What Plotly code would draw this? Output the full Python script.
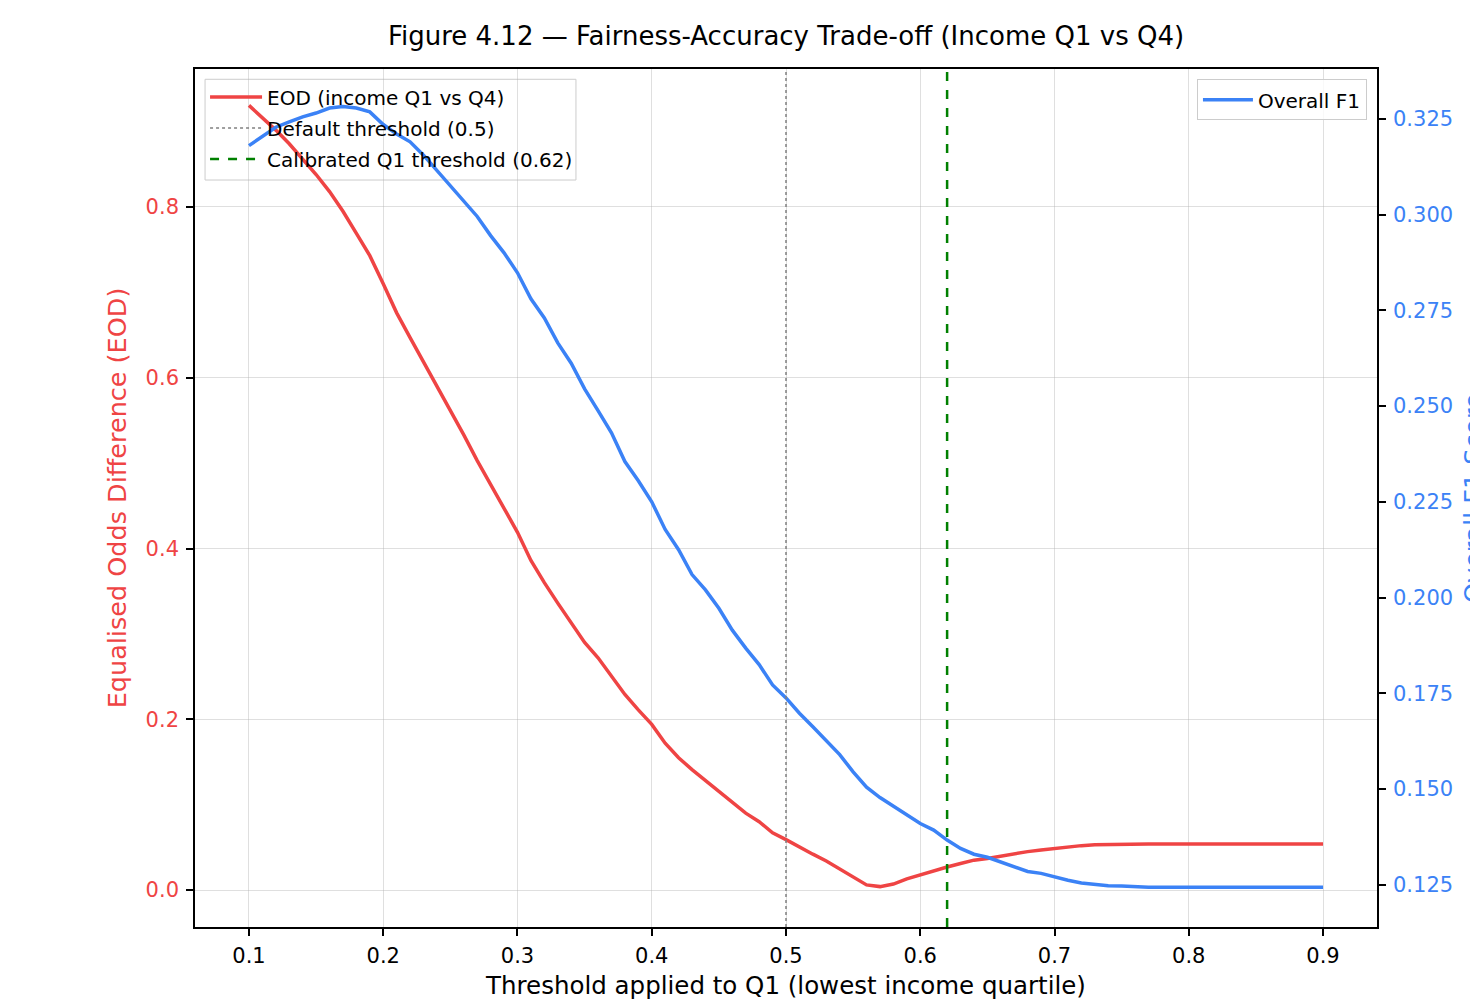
import plotly.graph_objects as go

thresholds = [round(0.10 + 0.01 * i, 2) for i in range(81)]

eod = [0.919, 0.905, 0.890, 0.874, 0.856, 0.838, 0.818, 0.795, 0.769, 0.743,
       0.710, 0.676, 0.647, 0.619, 0.591, 0.561, 0.533, 0.503, 0.475, 0.446,
       0.419, 0.386, 0.360, 0.336, 0.313, 0.290, 0.272, 0.251, 0.229, 0.211,
       0.194, 0.172, 0.155, 0.141, 0.128, 0.115, 0.102, 0.090, 0.080, 0.067,
       0.059, 0.050, 0.042, 0.034, 0.025, 0.015, 0.006, 0.004, 0.007, 0.013,
       0.018, 0.022, 0.027, 0.031, 0.035, 0.037, 0.040, 0.042, 0.045, 0.047,
       0.049, 0.051, 0.052, 0.053, 0.0535, 0.054, 0.054, 0.054, 0.054, 0.054,
       0.054, 0.054, 0.054, 0.054, 0.054, 0.054, 0.054, 0.054, 0.054, 0.054,
       0.054]

f1 = [0.3180, 0.3205, 0.3228, 0.3242, 0.3255, 0.3265, 0.3278, 0.3282, 0.3278, 0.3268,
      0.3235, 0.3210, 0.3190, 0.3155, 0.3115, 0.3075, 0.3035, 0.2995, 0.2945, 0.2900,
      0.2848, 0.2780, 0.2730, 0.2665, 0.2612, 0.2545, 0.2488, 0.2430, 0.2355, 0.2305,
      0.2250, 0.2178, 0.2125, 0.2060, 0.2020, 0.1972, 0.1915, 0.1868, 0.1825, 0.1772,
      0.1738, 0.1698, 0.1663, 0.1625, 0.1590, 0.1545, 0.1505, 0.1478, 0.1455, 0.1432,
      0.1410, 0.1393, 0.1367, 0.1345, 0.1330, 0.1322, 0.1310, 0.1297, 0.1285, 0.1280,
      0.1270, 0.1262, 0.1255, 0.1251, 0.1248, 0.1247, 0.1245, 0.1244, 0.1244, 0.1244,
      0.1244, 0.1244, 0.1244, 0.1244, 0.1244, 0.1244, 0.1244, 0.1244, 0.1244, 0.1244,
      0.1244]

default_threshold = 0.5
calibrated_threshold = 0.62

x_ticks = [0.1, 0.2, 0.3, 0.4, 0.5, 0.6, 0.7, 0.8, 0.9]
eod_ticks = [0.0, 0.2, 0.4, 0.6, 0.8]
f1_ticks = [0.125, 0.150, 0.175, 0.200, 0.225, 0.250, 0.275, 0.300, 0.325]

RED = "#ef4444"
BLUE = "#3b82f6"
FONT = "DejaVu Sans"
GRID = "rgba(176,176,176,0.4)"

fig = go.Figure()

fig.add_trace(go.Scatter(
    x=thresholds, y=eod, mode="lines", name="EOD (income Q1 vs Q4)",
    line=dict(color=RED, width=3.5), yaxis="y", legend="legend", legendgroup="g1",
))
fig.add_trace(go.Scatter(
    x=thresholds, y=f1, mode="lines", name="Overall F1",
    line=dict(color=BLUE, width=3.5), yaxis="y2", legend="legend2", legendgroup="g4",
))

fig.add_shape(type="line", xref="x", yref="paper", x0=default_threshold, x1=default_threshold,
              y0=0, y1=1, line=dict(color="gray", width=1.5, dash="dot"),
              showlegend=True, name="Default threshold (0.5)", legend="legend", legendgroup="g2")
fig.add_shape(type="line", xref="x", yref="paper", x0=calibrated_threshold, x1=calibrated_threshold,
              y0=0, y1=1, line=dict(color="green", width=2.5, dash="dash"),
              showlegend=True, name="Calibrated Q1 threshold (0.62)", legend="legend", legendgroup="g3")

# semi-transparent legend frame drawn beneath the F1 curve (as in the twin-axis original)
fig.add_shape(type="rect", xref="x domain", yref="y2 domain", layer="below",
              x0=0.0085, x1=0.3223, y0=0.8706, y1=0.988,
              fillcolor="rgba(255,255,255,0.8)", line=dict(color="#cccccc", width=1))

fig.update_layout(
    width=1470, height=1000,
    margin=dict(l=195, r=93, t=69, b=73),
    paper_bgcolor="white", plot_bgcolor="white",
    font=dict(family=FONT, size=21, color="black"),
    title=dict(text="Figure 4.12 — Fairness-Accuracy Trade-off (Income Q1 vs Q4)",
               x=0.5, xref="paper", xanchor="center", y=1 - 36 / 1000, yanchor="middle",
               yref="container", font=dict(family=FONT, size=26, color="black")),
    xaxis=dict(
        range=[0.0598, 0.9402], tickvals=x_ticks, ticktext=[f"{v:.1f}" for v in x_ticks],
        showgrid=True, gridcolor=GRID, gridwidth=1,
        showline=True, linecolor="black", linewidth=1.6, mirror=True,
        ticks="outside", ticklen=7, tickwidth=1.5, tickcolor="black",
        tickfont=dict(size=21, color="black"), zeroline=False, automargin=False,
        ticklabelstandoff=2,
        title=dict(text="Threshold applied to Q1 (lowest income quartile)",
                   font=dict(size=24.5, color="black"), standoff=17),
    ),
    yaxis=dict(
        range=[-0.0433, 0.9616], tickvals=eod_ticks, ticktext=[f"{v:.1f}" for v in eod_ticks],
        showgrid=True, gridcolor=GRID, gridwidth=1,
        showline=True, linecolor="black", linewidth=1.6,
        ticks="outside", ticklen=7, tickwidth=1.5, tickcolor="black",
        tickfont=dict(size=21, color=RED), zeroline=False, automargin=False,
        ticklabelstandoff=3,
        title=dict(text="Equalised Odds Difference (EOD)", font=dict(size=25.5, color=RED), standoff=12),
    ),
    yaxis2=dict(
        range=[0.1140, 0.3380], overlaying="y", side="right",
        tickvals=f1_ticks, ticktext=[f"{v:.3f}" for v in f1_ticks],
        showgrid=False, showline=True, linecolor="black", linewidth=1.6,
        ticks="outside", ticklen=7, tickwidth=1.5, tickcolor="black",
        tickfont=dict(size=21, color=BLUE), zeroline=False, automargin=False,
        ticklabelstandoff=3,
    ),
    legend=dict(
        x=0.0085, y=0.99, xanchor="left", yanchor="top",
        bgcolor="rgba(0,0,0,0)", borderwidth=0,
        font=dict(size=20, color="black"), tracegroupgap=2, itemwidth=52,
    ),
    legend2=dict(
        x=0.9915, y=0.988, xanchor="right", yanchor="top",
        bgcolor="rgba(255,255,255,0.8)", bordercolor="#cccccc", borderwidth=1,
        font=dict(size=20, color="black"), itemwidth=50,
    ),
    annotations=[dict(
        text="Overall F1 Score", textangle=-90, xref="paper", yref="paper",
        x=(1456 - 195) / 1182, y=0.5, xanchor="left", yanchor="middle", showarrow=False,
        font=dict(family=FONT, size=25.5, color=BLUE),
    )],
)

fig.write_html("out.html")
